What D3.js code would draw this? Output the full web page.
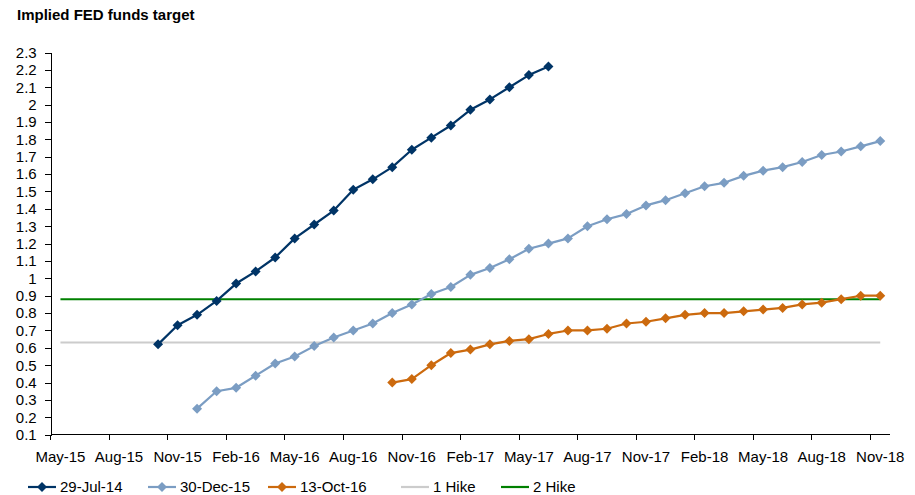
<!DOCTYPE html>
<html>
<head>
<meta charset="utf-8">
<script src="https://cdn.jsdelivr.net/npm/d3@7/dist/d3.min.js"></script>
<style>
  html, body { margin: 0; padding: 0; background: #fff; }
  svg { display: block; font-family: Arial, "Liberation Sans", sans-serif; }
  .axis path, .axis line { stroke: #000; shape-rendering: crispEdges; }
  .axis text { font-size: 15px; fill: #000; }
</style>
</head>
<body>
<svg id="chart" width="915" height="495"></svg>
<script>
// Monthly categories on the x axis
const months = [
  "May-15","Jun-15","Jul-15","Aug-15","Sep-15","Oct-15","Nov-15","Dec-15",
  "Jan-16","Feb-16","Mar-16","Apr-16","May-16","Jun-16","Jul-16","Aug-16",
  "Sep-16","Oct-16","Nov-16","Dec-16","Jan-17","Feb-17","Mar-17","Apr-17",
  "May-17","Jun-17","Jul-17","Aug-17","Sep-17","Oct-17","Nov-17","Dec-17",
  "Jan-18","Feb-18","Mar-18","Apr-18","May-18","Jun-18","Jul-18","Aug-18",
  "Sep-18","Oct-18","Nov-18"
];

// Labelled months (every third category)
const xTickLabels = ["May-15","Aug-15","Nov-15","Feb-16","May-16","Aug-16","Nov-16",
  "Feb-17","May-17","Aug-17","Nov-17","Feb-18","May-18","Aug-18","Nov-18"];

const yTicks = [0.1,0.2,0.3,0.4,0.5,0.6,0.7,0.8,0.9,1.0,1.1,1.2,1.3,1.4,1.5,
  1.6,1.7,1.8,1.9,2.0,2.1,2.2,2.3];

// Implied fed funds curve as priced on 29-Jul-14 (Oct-15 .. Jun-17)
const start29Jul14 = "Oct-15";
const curve29Jul14 = [0.62,0.73,0.79,0.87,0.97,1.04,1.12,1.23,1.31,1.39,1.51,
  1.57,1.64,1.74,1.81,1.88,1.97,2.03,2.10,2.17,2.22];

// Curve as priced on 30-Dec-15 (Dec-15 .. Nov-18)
const start30Dec15 = "Dec-15";
const curve30Dec15 = [0.25,0.35,0.37,0.44,0.51,0.55,0.61,0.66,0.70,0.74,0.80,
  0.85,0.91,0.95,1.02,1.06,1.11,1.17,1.20,1.23,1.30,1.34,1.37,1.42,1.45,1.49,
  1.53,1.55,1.59,1.62,1.64,1.67,1.71,1.73,1.76,1.79];

// Curve as priced on 13-Oct-16 (Oct-16 .. Nov-18)
const start13Oct16 = "Oct-16";
const curve13Oct16 = [0.40,0.42,0.50,0.57,0.59,0.62,0.64,0.65,0.68,0.70,0.70,
  0.71,0.74,0.75,0.77,0.79,0.80,0.80,0.81,0.82,0.83,0.85,0.86,0.88,0.90,0.90];

// Reference levels
const oneHike = 0.63;
const twoHike = 0.88;

const seriesNames = ["29-Jul-14","30-Dec-15","13-Oct-16","1 Hike","2 Hike"];
const seriesColors = ["#003466","#7b9dc3","#cc6a0e","#cccccc","#008000"];

const svg = d3.select("#chart");

const x = d3.scaleBand().domain(months).range([50.7, 890]).padding(0);
const y = d3.scaleLinear().domain([0.1, 2.3]).range([434.7, 52.5]);
const cx = m => x(m) + x.bandwidth() / 2;

// Title
svg.append("text")
  .attr("x", 17).attr("y", 20)
  .attr("font-size", 15).attr("font-weight", "bold")
  .text("Implied FED funds target");

// Y axis
svg.append("g").attr("class", "axis")
  .attr("transform", "translate(50.7,0)")
  .call(d3.axisLeft(y).tickValues(yTicks).tickSize(6).tickPadding(8)
    .tickFormat(d => String(+d.toFixed(1))));

// X axis: line, tick marks at category boundaries, labels centred on months
const xg = svg.append("g").attr("class", "axis")
  .attr("transform", "translate(0,434.7)");
xg.append("line").attr("x1", 50.7).attr("x2", 890).attr("y1", 0).attr("y2", 0);
xg.selectAll("line.tick").data(xTickLabels).join("line")
  .attr("class", "tick")
  .attr("x1", d => x(d)).attr("x2", d => x(d))
  .attr("y1", 0).attr("y2", 5);
xg.selectAll("text").data(xTickLabels).join("text")
  .attr("x", d => cx(d)).attr("y", 27.6)
  .attr("text-anchor", "middle")
  .text(d => d);

// Horizontal hike levels across all months
const hikeLine = (v, color) => svg.append("line")
  .attr("x1", cx(months[0])).attr("x2", cx(months[months.length - 1]))
  .attr("y1", y(v)).attr("y2", y(v))
  .attr("stroke", color).attr("stroke-width", 2);
hikeLine(oneHike, seriesColors[3]);
hikeLine(twoHike, seriesColors[4]);

const diamond = "M0,-5L5,0L0,5L-5,0Z";
const line = d3.line().x(d => cx(d.m)).y(d => y(d.v));

function drawCurve(startMonth, values, color) {
  const i0 = months.indexOf(startMonth);
  const pts = values.map((v, i) => ({ m: months[i0 + i], v }));
  svg.append("path").datum(pts)
    .attr("d", line).attr("fill", "none")
    .attr("stroke", color).attr("stroke-width", 2.2)
    .attr("stroke-linejoin", "round");
  svg.append("g").selectAll("path").data(pts).join("path")
    .attr("d", diamond)
    .attr("transform", d => `translate(${cx(d.m)},${y(d.v)})`)
    .attr("fill", color);
}
drawCurve(start29Jul14, curve29Jul14, seriesColors[0]);
drawCurve(start30Dec15, curve30Dec15, seriesColors[1]);
drawCurve(start13Oct16, curve13Oct16, seriesColors[2]);

// Legend
const legendX = [28, 148, 268, 401, 501];
const lg = svg.append("g").attr("transform", "translate(0,487)");
seriesNames.forEach((name, i) => {
  const g = lg.append("g").attr("transform", `translate(${legendX[i]},0)`);
  g.append("line").attr("x1", 0).attr("x2", 28).attr("y1", 0).attr("y2", 0)
    .attr("stroke", seriesColors[i]).attr("stroke-width", 2.2);
  if (i < 3) g.append("path").attr("d", diamond)
    .attr("transform", "translate(14,0)").attr("fill", seriesColors[i]);
  g.append("text").attr("x", 32).attr("y", 5.3)
    .attr("font-size", 15).text(name);
});
</script>
</body>
</html>
